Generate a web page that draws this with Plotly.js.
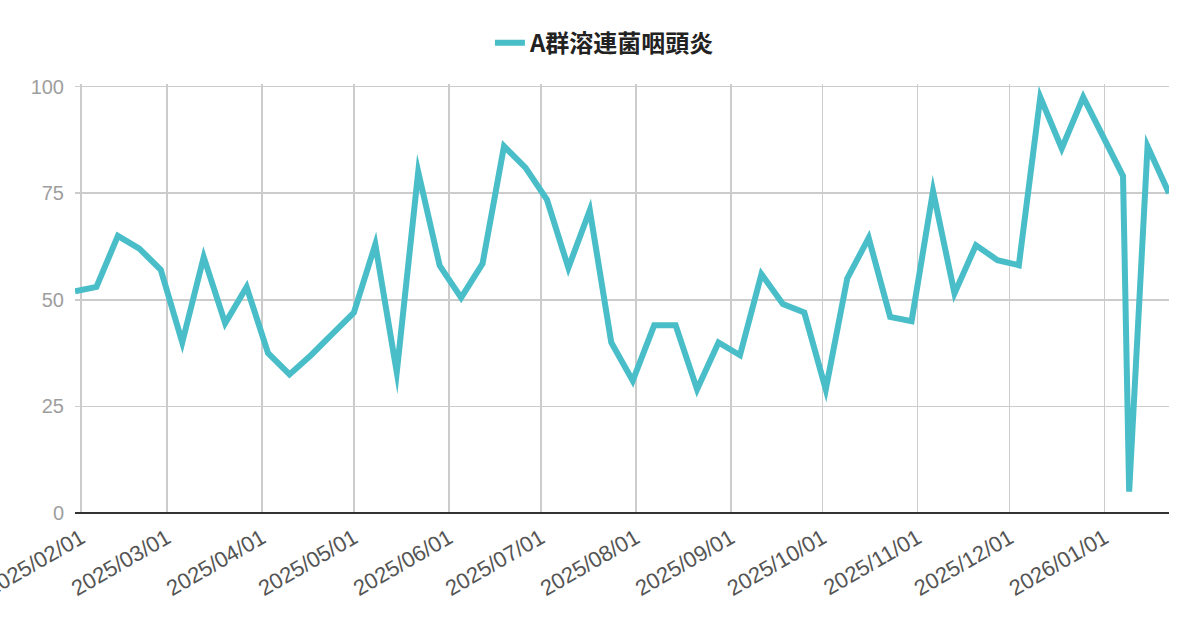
<!DOCTYPE html>
<html>
<head>
<meta charset="utf-8">
<script src="https://cdn.plot.ly/plotly-3.0.1.min.js"></script>
<style>
html,body{margin:0;padding:0;background:#fff;}
#chart{width:1200px;height:626px;}
.scatterlayer .js-line{stroke-linejoin:miter !important;stroke-miterlimit:10 !important;}
</style>
</head>
<body>
<div id="chart"></div>
<script>
const seriesName = "A群溶連菌咽頭炎";
const dates = [
  "2025-01-30","2025-02-06","2025-02-13","2025-02-20","2025-02-27",
  "2025-03-06","2025-03-13","2025-03-20","2025-03-27","2025-04-03",
  "2025-04-10","2025-04-17","2025-04-24","2025-05-01","2025-05-08",
  "2025-05-15","2025-05-22","2025-05-29","2025-06-05","2025-06-12",
  "2025-06-19","2025-06-26","2025-07-03","2025-07-10","2025-07-17",
  "2025-07-24","2025-07-31","2025-08-07","2025-08-14","2025-08-21",
  "2025-08-28","2025-09-04","2025-09-11","2025-09-18","2025-09-25",
  "2025-10-02","2025-10-09","2025-10-16","2025-10-23","2025-10-30",
  "2025-11-06","2025-11-13","2025-11-20","2025-11-27","2025-12-04",
  "2025-12-11","2025-12-18","2025-12-25","2026-01-07","2026-01-09",
  "2026-01-15","2026-01-22"
];
const values = [
  52, 53, 65, 62, 57,
  40, 60, 44.5, 53, 37.5,
  32.5, 37, 42, 47, 63,
  33, 80, 58, 50.5, 58.5,
  86, 81, 73.5, 57.5, 71,
  40, 31, 44, 44, 29,
  40, 37, 56, 49, 47,
  29, 55, 64.5, 46, 45,
  75.5, 51.5, 62.8, 59.3, 58.1,
  97.5, 85.5, 97.5, 79, 5,
  86, 75
];
const xRange = ["2025-01-30", "2026-01-22"];
const monthTicks = [
  "2025-02-01","2025-03-01","2025-04-01","2025-05-01","2025-06-01","2025-07-01",
  "2025-08-01","2025-09-01","2025-10-01","2025-11-01","2025-12-01","2026-01-01"
];
const monthLabels = [
  "2025/02/01","2025/03/01","2025/04/01","2025/05/01","2025/06/01","2025/07/01",
  "2025/08/01","2025/09/01","2025/10/01","2025/11/01","2025/12/01","2026/01/01"
];
const yTicks = [0, 25, 50, 75, 100];

const trace = {
  type: "scatter",
  mode: "lines",
  name: seriesName,
  x: dates,
  y: values,
  line: {color: "#49BEC8", width: 6},
  hoverinfo: "x+y"
};

const layout = {
  width: 1200,
  height: 626,
  margin: {l: 75, r: 31, t: 84, b: 113.3, pad: 0},
  paper_bgcolor: "#fff",
  plot_bgcolor: "#fff",
  showlegend: true,
  legend: {
    orientation: "h",
    x: 0.3793, xanchor: "left",
    y: 1.095, yanchor: "middle",
    itemwidth: 30,
    font: {family: "Noto Sans CJK JP, Liberation Sans, sans-serif", size: 24, color: "#222", weight: "bold"}
  },
  xaxis: {
    type: "date",
    range: xRange,
    tickmode: "array",
    tickvals: monthTicks,
    ticktext: monthLabels,
    tickangle: -30,
    ticklabeloverflow: "allow",
    showgrid: true,
    gridcolor: "#cccccc",
    gridwidth: 1.5,
    zeroline: false,
    showline: false,
    ticks: "",
    ticklabelstandoff: 7,
    tickfont: {family: "Liberation Sans, Arial, sans-serif", size: 22, color: "#555"},
    automargin: false,
    fixedrange: true
  },
  yaxis: {
    range: [0, 100.6],
    tickvals: yTicks,
    showgrid: true,
    gridcolor: "#cccccc",
    gridwidth: 1.5,
    zeroline: true,
    zerolinecolor: "#333",
    zerolinewidth: 2,
    showline: false,
    ticks: "",
    ticklabelstandoff: 10,
    tickfont: {family: "Liberation Sans, Arial, sans-serif", size: 20, color: "#9e9e9e"},
    automargin: false,
    fixedrange: true
  }
};

Plotly.newPlot("chart", [trace], layout, {displayModeBar: false, staticPlot: true});
</script>
</body>
</html>
